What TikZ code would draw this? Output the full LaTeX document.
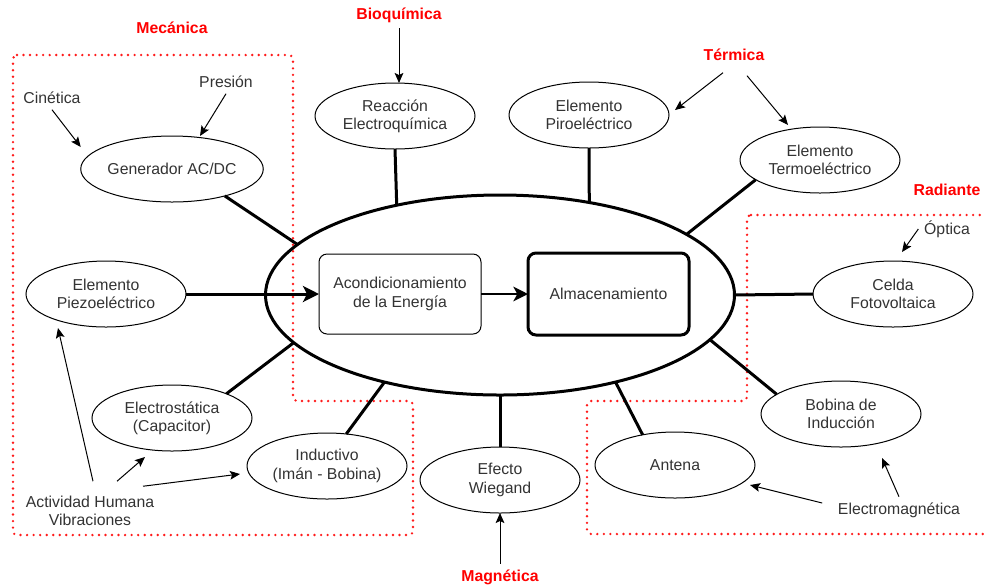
\documentclass[tikz,border=0pt]{standalone}
\usepackage{fontspec}
\setmainfont{Liberation Sans}
\usetikzlibrary{shapes.geometric,arrows.meta,calc}

\definecolor{gristexto}{HTML}{333333}
\definecolor{rojozona}{HTML}{FF1A1A}

\tikzset{every picture/.style={line width=0.75pt}}
\tikzset{
  fuente/.style={ellipse,draw,minimum width=120pt,minimum height=49.5pt,inner sep=0pt,outer sep=0pt,align=center,text=gristexto},
  caja/.style={rectangle,draw,rounded corners=6pt,minimum width=121.5pt,minimum height=60pt,inner sep=0pt,outer sep=0pt,align=center,text=gristexto},
  etiq/.style={inner sep=4pt,align=center,text=gristexto},
  tipo/.style={inner sep=4pt,text=red,font=\fontsize{11.85}{13.7}\selectfont\bfseries},
  conector/.style={line width=2.25pt},
  flecha/.style={-{Stealth[length=7.5pt,width=6.5pt,inset=1.5pt]}},
  zona/.style={draw=rojozona,line width=2pt,line cap=round,dash pattern=on 0pt off 4.9pt,rounded corners=3pt}
}

\begin{document}
\begin{tikzpicture}[x=0.75pt,y=0.75pt,yscale=-1,xscale=1,font=\fontsize{11.85}{13.7}\selectfont]
		\clip (0,0) rectangle (984,587);
		
		%Shape: Dotted zones
		\draw[zona] (13,55) -- (293,55) -- (293,401) -- (413,401) -- (413,535) -- (13,535) -- cycle ;
		\draw[zona] (747,215) -- (1000,215) -- (1000,534) -- (587,534) -- (587,401) -- (747,401) -- cycle ;
		
		%Shape: Ellipse (centre)
		\draw (500,295) node [ellipse,draw,line width=2.25pt,minimum width=351.75pt,minimum height=150pt,inner sep=0pt,outer sep=0pt] (nucleo) {};
		%Shape: Rectangles
		\draw (400,294) node [caja] (acond) {Acondicionamiento\\de la Energía};
		\draw (608.5,294) node [caja,line width=2.25pt,minimum width=120.75pt,minimum height=61.5pt] (almac) {Almacenamiento};
		
		%Shape: Ellipses
		\draw (172,169) node [fuente] (gen) {Generador AC/DC};
		\draw (106,294) node [fuente] (piezo) {Elemento\\Piezoeléctrico};
		\draw (172,418) node [fuente] (electro) {Electrostática\\(Capacitor)};
		\draw (327,466) node [fuente] (induc) {Inductivo\\(Imán - Bobina)};
		\draw (395,116) node [fuente] (reac) {Reacción\\Electroquímica};
		\draw (589,115) node [fuente] (piro) {Elemento\\Piroeléctrico};
		\draw (820,160) node [fuente] (termo) {Elemento\\Termoeléctrico};
		\draw (893,294) node [fuente] (celda) {Celda\\Fotovoltaica};
		\draw (841,414) node [fuente] (bobina) {Bobina de\\Inducción};
		\draw (675,465) node [fuente] (antena) {Antena};
		\draw (500,480) node [fuente] (wiegand) {Efecto\\Wiegand};
		
		%Labels
		\draw (172,28) node [tipo] (mecanica) {Mecánica};
		\draw (399,15) node [tipo] (bioquimica) {Bioquímica};
		\draw (734,55) node [tipo] (termica) {Térmica};
		\draw (947,190) node [tipo] (radiante) {Radiante};
		\draw (500,577) node [tipo] (magnetica) {Magnética};
		\draw (52,98) node [etiq] (cinetica) {Cinética};
		\draw (226,82) node [etiq] (presion) {Presión};
		\draw (947,229) node [etiq] (optica) {Óptica};
		\draw (899,510) node [etiq] (electromag) {Electromagnética};
		\draw (90,511) node [etiq] (actividad) {Actividad Humana\\Vibraciones};
		
		%Thick connectors
		\draw[conector] (gen.-27) -- (nucleo.166) ;
		\draw[conector] (electro.24) -- (nucleo.193) ;
		\draw[conector] (induc.59) -- (nucleo.217.4) ;
		\draw[conector] (reac.south) -- (nucleo.139.6) ;
		\draw[conector] (piro.south) -- (nucleo.46.5) ;
		\draw[conector] (termo.197) -- (nucleo.18.3) ;
		\draw[conector] (celda.west) -- (nucleo.east) ;
		\draw[conector] (bobina.163) -- (nucleo.-12.7) ;
		\draw[conector] (antena.137.6) -- (nucleo.-37.9) ;
		\draw[conector] (wiegand.north) -- (nucleo.south) ;
		\draw[conector,-{Stealth[length=12pt,width=12pt,inset=3pt]}] (piezo.east) -- (acond.west) ;
		\draw[line width=1.5pt,-{Stealth[length=11pt,width=11pt,inset=3pt]}] (acond.east) -- (almac.west) ;
		
		%Thin arrows
		\draw[flecha] (cinetica.south) -- ($(gen.west)+(0,-22)$) ;
		\draw[flecha] (presion.south) -- ($(gen.north)+(28,0)$) ;
		\draw[flecha] (bioquimica.south) -- (bioquimica.south |- reac.north) ;
		\draw[flecha] ($(termica.south)+(-11,6)$) -- ($(piro.east)+(6,-5)$) ;
		\draw[flecha] ($(termica.south)+(13,9)$) -- ($(termo.north)+(-32,-2)$) ;
		\draw[flecha] (optica.west) -- ($(celda.north)+(9,-9)$) ;
		\draw[flecha] ($(electromag.west)+(-10,-7)$) -- ($(antena.east)+(-5,20)$) ;
		\draw[flecha] (electromag.north) -- ($(bobina.south)+(41,11)$) ;
		\draw[flecha] (magnetica.north) -- (wiegand.south) ;
		\draw[flecha] ($(actividad.north)+(3,-9)$) -- ($(piezo.south)+(-48,1)$) ;
		\draw[flecha] ($(actividad.north)+(27,-9)$) -- ($(electro.south)+(-27,6)$) ;
		\draw[flecha] ($(actividad.north)+(53,-4)$) -- ($(induc.west)+(-7,8)$) ;
		
	\end{tikzpicture}
\end{document}
